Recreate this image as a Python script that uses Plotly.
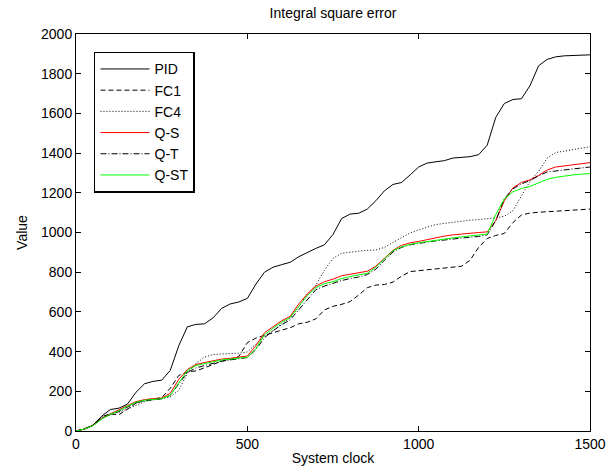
import plotly.graph_objects as go

clock = [0, 25, 50, 75, 100, 125, 150, 175, 200, 225, 250, 275, 300, 325, 350, 375,
         400, 425, 450, 475, 500, 525, 550, 575, 600, 625, 650, 675, 700, 725, 750, 775,
         800, 825, 850, 875, 900, 925, 950, 975, 1000, 1025, 1050, 1075, 1100, 1125, 1150,
         1175, 1200, 1225, 1250, 1275, 1300, 1325, 1350, 1375, 1400, 1425, 1450, 1475, 1500]

pid = [0, 10, 30, 75, 108, 115, 135, 195, 238, 250, 256, 305, 430, 525, 537, 540,
       570, 618, 640, 650, 668, 740, 800, 825, 838, 850, 878, 900, 920, 938, 990, 1070,
       1093, 1097, 1118, 1160, 1210, 1242, 1252, 1290, 1330, 1350, 1356, 1362, 1375, 1378, 1382,
       1392, 1440, 1580, 1650, 1670, 1674, 1740, 1840, 1872, 1885, 1890, 1892, 1894, 1895]

fc1 = [0, 12, 30, 72, 86, 82, 110, 140, 155, 163, 168, 215, 280, 297, 303, 318,
       335, 352, 360, 375, 445, 468, 482, 497, 508, 520, 540, 548, 565, 610, 628, 638,
       652, 685, 722, 735, 738, 750, 780, 803, 808, 812, 818, 822, 826, 830, 860,
       925, 970, 985, 995, 1050, 1088, 1098, 1102, 1105, 1108, 1110, 1113, 1116, 1118]

fc4 = [0, 10, 28, 70, 88, 95, 110, 130, 148, 158, 162, 172, 205, 290, 340, 372,
       385, 388, 390, 392, 398, 440, 478, 505, 540, 570, 625, 690, 735, 810, 870, 895,
       902, 906, 910, 912, 925, 948, 975, 998, 1013, 1028, 1040, 1046, 1052, 1057, 1062,
       1065, 1069, 1074, 1082, 1110, 1185, 1258, 1308, 1375, 1403, 1410, 1417, 1424, 1432]

qs = [0, 10, 28, 62, 86, 105, 128, 148, 158, 163, 166, 190, 260, 310, 335, 345,
      355, 362, 366, 372, 378, 430, 495, 525, 555, 578, 640, 690, 730, 752, 765, 782,
      790, 796, 805, 830, 870, 910, 935, 948, 955, 965, 975, 982, 988, 993, 998,
      1000, 1003, 1060, 1160, 1225, 1252, 1265, 1288, 1315, 1330, 1336, 1342, 1347, 1352]

qt = [0, 10, 28, 65, 82, 98, 120, 142, 152, 158, 162, 180, 240, 295, 318, 330,
      342, 352, 358, 364, 370, 410, 470, 505, 535, 560, 610, 665, 712, 730, 745, 758,
      768, 776, 788, 815, 860, 902, 925, 938, 945, 952, 958, 962, 968, 972, 976,
      980, 988, 1060, 1170, 1220, 1245, 1262, 1285, 1305, 1310, 1315, 1320, 1325, 1330]

qst = [0, 10, 27, 60, 84, 102, 125, 145, 155, 160, 163, 180, 245, 305, 330, 340,
       350, 358, 362, 366, 372, 415, 485, 518, 548, 572, 630, 682, 722, 742, 752, 768,
       778, 785, 795, 825, 868, 908, 928, 940, 948, 955, 962, 968, 973, 978, 982,
       985, 992, 1090, 1170, 1205, 1222, 1232, 1252, 1268, 1278, 1285, 1290, 1294, 1297]

series = [
    ("PID", pid, "#000000", "solid"),
    ("FC1", fc1, "#000000", "5px,3px"),
    ("FC4", fc4, "#000000", "1px,2px"),
    ("Q-S", qs, "#ff0000", "solid"),
    ("Q-T", qt, "#000000", "6px,2px,1px,2px"),
    ("Q-ST", qst, "#00ff00", "solid"),
]

fig = go.Figure()
for name, vals, color, dash in series:
    fig.add_trace(go.Scatter(x=clock, y=vals, mode="lines", name=name,
                             line=dict(color=color, width=1, dash=dash)))

axis_common = dict(showgrid=False, zeroline=False, showline=True, linecolor="black",
                   linewidth=1, mirror="ticks", ticks="inside", ticklen=5,
                   tickcolor="black", tickfont=dict(size=14, color="black"),
                   automargin=False)

fig.update_layout(
    width=611, height=474,
    margin=dict(l=76, r=21, t=34, b=43),
    paper_bgcolor="white", plot_bgcolor="white",
    font=dict(family="Liberation Sans, Arial, sans-serif", size=14, color="black"),
    title=dict(text="Integral square error", x=(76 + 590) / 2 / 611, xanchor="center",
               y=1 - 13 / 474, yanchor="middle", font=dict(size=14)),
    xaxis=dict(range=[0, 1500], dtick=500, title=dict(text="System clock", standoff=2,
               font=dict(size=14)), **axis_common),
    yaxis=dict(range=[0, 2000], dtick=200, title=dict(text="Value", standoff=10,
               font=dict(size=14)), **axis_common),
    legend=dict(x=0.035, y=0.955, xanchor="left", yanchor="top",
                bgcolor="white", bordercolor="black", borderwidth=1.5,
                font=dict(size=14), tracegroupgap=0, itemwidth=49),
    showlegend=True,
)

fig.write_html("out.html", config={"displayModeBar": False},
               post_script="document.body.style.margin='0';")
